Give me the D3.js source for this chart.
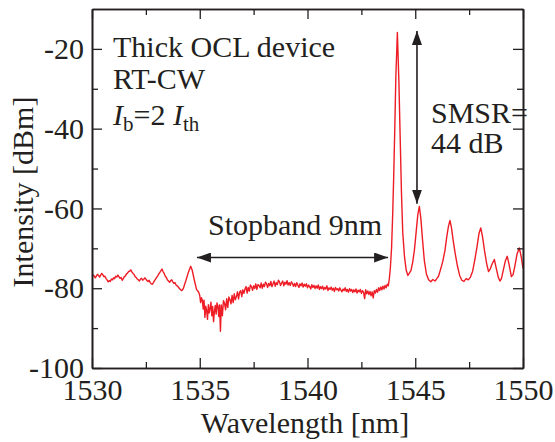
<!DOCTYPE html>
<html>
<head>
<meta charset="utf-8">
<script src="https://cdn.jsdelivr.net/npm/d3@7"></script>
<style>
  html, body { margin: 0; padding: 0; background: #fff; }
  svg text { font-family: "Liberation Serif", "Times New Roman", serif; fill: #231f20; }
</style>
</head>
<body>
<div id="chart"></div>
<script>
// spectrum, [wavelength nm, intensity dBm]
const shortSide = [
  [1530.0,-77.2],[1530.05,-76.7],[1530.1,-76.9],[1530.15,-77.4],[1530.2,-77.0],[1530.25,-76.5],
  [1530.3,-76.8],[1530.35,-77.2],[1530.4,-76.7],[1530.45,-76.3],[1530.5,-76.6],[1530.55,-77.1],
  [1530.6,-77.0],[1530.65,-77.6],[1530.7,-77.9],[1530.75,-78.4],[1530.8,-78.1],[1530.85,-78.3],
  [1530.9,-77.7],[1530.95,-77.9],[1531.0,-77.4],[1531.05,-77.6],[1531.1,-77.0],[1531.15,-77.2],
  [1531.2,-76.7],[1531.25,-77.1],[1531.3,-77.5],[1531.35,-77.3],[1531.4,-78.0],[1531.45,-77.6],
  [1531.5,-77.1],[1531.55,-76.9],[1531.6,-76.4],[1531.65,-76.2],[1531.7,-75.8],[1531.75,-75.7],
  [1531.8,-75.4],[1531.85,-75.9],[1531.9,-76.3],[1531.95,-76.5],[1532.0,-77.1],[1532.05,-77.3],
  [1532.1,-77.7],[1532.15,-77.9],[1532.2,-78.2],[1532.25,-77.7],[1532.3,-77.5],[1532.35,-78.0],
  [1532.4,-77.8],[1532.45,-77.4],[1532.5,-77.7],[1532.55,-78.1],[1532.6,-78.3],[1532.65,-78.0],
  [1532.7,-78.6],[1532.75,-78.9],[1532.8,-79.0],[1532.85,-78.6],[1532.9,-78.1],[1532.95,-77.7],
  [1533.0,-77.3],[1533.05,-76.9],[1533.1,-76.4],[1533.15,-76.0],[1533.2,-75.6],[1533.25,-75.2],
  [1533.3,-75.9],[1533.35,-76.3],[1533.4,-77.0],[1533.45,-77.3],[1533.5,-77.9],[1533.55,-78.2],
  [1533.6,-78.5],[1533.65,-78.1],[1533.7,-77.9],[1533.75,-78.4],[1533.8,-78.8],[1533.85,-78.6],
  [1533.9,-79.2],[1533.95,-79.4],[1534.0,-79.7],[1534.05,-80.0],[1534.1,-80.3],[1534.15,-80.6],
  [1534.2,-80.4],[1534.25,-79.9],[1534.3,-79.0],[1534.35,-78.2],[1534.4,-77.3],[1534.45,-76.4],
  [1534.5,-75.6],[1534.58,-74.5],[1534.65,-75.5],[1534.75,-78.0],[1534.85,-80.3],[1534.95,-81.0]
];

const stopband = [
  [1535.00,-81.8],[1535.04,-83.6],[1535.08,-82.4],[1535.12,-83.0],[1535.16,-85.2],[1535.20,-83.0],
  [1535.24,-87.3],[1535.28,-84.5],[1535.32,-85.6],[1535.36,-87.8],[1535.40,-84.1],[1535.44,-86.2],
  [1535.48,-85.1],[1535.52,-83.5],[1535.56,-86.9],[1535.60,-84.6],[1535.64,-88.4],[1535.68,-85.9],
  [1535.72,-84.3],[1535.76,-86.5],[1535.80,-83.7],[1535.84,-84.4],[1535.88,-87.1],[1535.92,-84.2],
  [1535.96,-90.8],[1536.00,-84.2],[1536.05,-86.9],[1536.10,-83.1],[1536.15,-83.8],[1536.20,-85.4],
  [1536.25,-82.6],[1536.30,-84.8],[1536.35,-82.2],[1536.40,-82.9],[1536.45,-83.9],[1536.50,-81.8],
  [1536.55,-83.6],[1536.60,-81.4],[1536.65,-82.9],[1536.70,-82.1],[1536.75,-80.9],[1536.80,-82.7],
  [1536.85,-81.0],[1536.90,-80.6],[1536.95,-82.1],[1537.00,-80.4],[1537.05,-81.3],[1537.10,-80.2],
  [1537.15,-79.6],[1537.20,-81.2],[1537.25,-79.8],[1537.30,-80.7],[1537.35,-79.2],[1537.40,-79.6],
  [1537.45,-80.5],[1537.50,-79.4],[1537.55,-80.1],[1537.60,-78.9],[1537.65,-80.3],[1537.70,-79.1],
  [1537.75,-79.3],[1537.80,-79.9],[1537.85,-78.7],[1537.90,-80.0],[1537.95,-79.0],[1538.00,-79.6],
  [1538.05,-78.5],[1538.10,-78.9],[1538.15,-79.8],[1538.20,-78.8],[1538.25,-79.4],[1538.30,-78.3],
  [1538.35,-79.6],[1538.40,-78.9],[1538.45,-78.2],[1538.50,-79.5],[1538.55,-78.6],[1538.60,-79.1],
  [1538.65,-78.0],[1538.70,-78.4],[1538.75,-79.3],[1538.80,-78.7],[1538.85,-78.2],[1538.90,-79.4],
  [1538.95,-78.5],[1539.00,-79.0],[1539.05,-78.1],[1539.10,-79.2],[1539.15,-78.6],[1539.20,-79.3],
  [1539.25,-78.4],[1539.30,-78.8],[1539.35,-79.5],[1539.40,-78.8],[1539.45,-79.6],[1539.50,-78.6],
  [1539.55,-79.2],[1539.60,-79.8],[1539.65,-78.9],[1539.70,-79.4],[1539.75,-78.7],[1539.80,-79.7],
  [1539.85,-79.0],[1539.90,-79.5],[1539.95,-78.9],[1540.00,-79.9],[1540.05,-79.2],[1540.10,-79.6],
  [1540.15,-80.2],[1540.20,-79.1],[1540.25,-79.8],[1540.30,-79.3],[1540.35,-80.1],[1540.40,-79.4],
  [1540.45,-80.0],[1540.50,-79.2],[1540.55,-80.3],[1540.60,-79.6],[1540.65,-80.1],[1540.70,-79.5],
  [1540.75,-80.4],[1540.80,-79.8],[1540.85,-80.2],[1540.90,-79.4],[1540.95,-80.6],[1541.00,-79.9],
  [1541.05,-80.3],[1541.10,-79.7],[1541.15,-80.5],[1541.20,-80.0],[1541.25,-80.8],[1541.30,-79.8],
  [1541.35,-80.4],[1541.40,-80.1],[1541.45,-80.7],[1541.50,-79.9],[1541.55,-80.5],[1541.60,-80.9],
  [1541.65,-80.2],[1541.70,-80.6],[1541.75,-79.9],[1541.80,-80.8],[1541.85,-80.3],[1541.90,-81.0],
  [1541.95,-80.1],[1542.00,-80.7],[1542.05,-80.3],[1542.10,-81.1],[1542.15,-80.4],[1542.20,-80.9],
  [1542.25,-80.2],[1542.30,-81.2],[1542.35,-80.5],[1542.40,-80.9],[1542.45,-80.3],[1542.50,-81.3],
  [1542.55,-80.6],[1542.60,-81.0],[1542.65,-82.6],[1542.70,-80.4],[1542.75,-81.4],[1542.80,-80.7],
  [1542.85,-81.6],[1542.90,-80.8],[1542.95,-81.9],[1543.00,-80.9],[1543.05,-82.4],[1543.10,-80.6],
  [1543.15,-81.2],[1543.20,-80.3],[1543.25,-81.0],[1543.30,-79.9],[1543.35,-80.6],[1543.40,-79.7],
  [1543.45,-80.4],[1543.50,-79.5],[1543.55,-80.2],[1543.60,-79.3],[1543.65,-79.9],[1543.70,-79.0],
  [1543.75,-79.4]
];

const longSide = [
  [1543.80,-77.5],[1543.85,-74.5],[1543.90,-70.0],[1543.95,-62.0],[1544.00,-52.0],[1544.05,-40.0],
  [1544.10,-27.0],[1544.17,-15.9],[1544.24,-28.0],[1544.30,-42.0],[1544.36,-56.0],[1544.42,-66.0],
  [1544.50,-72.0],[1544.58,-75.5],[1544.66,-76.8],[1544.72,-76.3],[1544.80,-75.6],[1544.88,-73.5],
  [1544.96,-70.5],[1545.04,-66.0],[1545.12,-61.5],[1545.19,-59.5],[1545.26,-62.5],[1545.34,-68.0],
  [1545.42,-73.0],[1545.52,-76.5],[1545.62,-77.9],[1545.72,-78.4],[1545.82,-77.8],[1545.92,-78.2],
  [1546.00,-77.6],[1546.08,-77.0],[1546.18,-75.2],[1546.28,-73.2],[1546.38,-70.5],[1546.46,-67.2],
  [1546.54,-64.5],[1546.61,-63.0],[1546.68,-64.8],[1546.76,-68.0],[1546.86,-71.5],[1546.96,-74.5],
  [1547.06,-76.8],[1547.16,-78.0],[1547.26,-78.3],[1547.36,-77.6],[1547.46,-77.9],[1547.56,-77.2],
  [1547.66,-75.8],[1547.76,-73.0],[1547.86,-69.8],[1547.96,-66.2],[1548.04,-64.9],[1548.12,-67.0],
  [1548.22,-70.8],[1548.32,-74.0],[1548.40,-75.8],[1548.48,-75.2],[1548.56,-74.0],[1548.67,-72.8],
  [1548.76,-75.0],[1548.85,-77.2],[1548.93,-78.2],[1549.00,-77.6],[1549.08,-75.6],[1549.18,-73.2],
  [1549.27,-72.0],[1549.36,-74.2],[1549.46,-77.1],[1549.54,-76.6],[1549.62,-74.5],[1549.72,-71.5],
  [1549.83,-69.9],[1549.92,-72.2],[1550.00,-75.0]
];

const xTicks = [1530, 1535, 1540, 1545, 1550];
const xMinor = [1532.5, 1537.5, 1542.5, 1547.5];
const yTicks = [-100, -80, -60, -40, -20];
const yMinor = [-90, -70, -50, -30];

// arrows: stopband span and SMSR span
const stopbandArrow = [[1534.87, -72.3], [1543.74, -72.3]];
const smsrArrow = [[1545.08, -15.5], [1545.08, -58.8]];

const width = 555, height = 442;
const margin = { top: 9, right: 32, bottom: 74, left: 92 };
const iw = width - margin.left - margin.right;
const ih = height - margin.top - margin.bottom;
const serif = '"Liberation Serif", "Times New Roman", serif';
const fs = 30;

const svg = d3.select('#chart').append('svg')
  .attr('width', width)
  .attr('height', height);

const g = svg.append('g').attr('transform', `translate(${margin.left},${margin.top})`);

const x = d3.scaleLinear().domain([1530, 1550]).range([0, iw]);
const y = d3.scaleLinear().domain([-100, -10]).range([ih, 0]);

const defs = svg.append('defs');
defs.append('clipPath').attr('id', 'clip')
  .append('rect').attr('width', iw).attr('height', ih);

defs.append('marker')
  .attr('id', 'head')
  .attr('viewBox', '0 0 14 10')
  .attr('refX', 14).attr('refY', 5)
  .attr('markerWidth', 14).attr('markerHeight', 10)
  .attr('markerUnits', 'userSpaceOnUse')
  .attr('orient', 'auto-start-reverse')
  .append('path').attr('d', 'M0,0L14,5L0,10Z').attr('fill', '#231f20');

// spectrum
const spectrum = shortSide.concat(stopband, longSide);
g.append('path')
  .datum(spectrum)
  .attr('clip-path', 'url(#clip)')
  .attr('fill', 'none')
  .attr('stroke', '#ee1c25')
  .attr('stroke-width', 1.4)
  .attr('stroke-linejoin', 'round')
  .attr('d', d3.line().x(d => x(d[0])).y(d => y(d[1])));

// axes, ticks pointing inward
function styleAxis(sel) {
  sel.attr('font-family', null).attr('font-size', null);
  sel.selectAll('path.domain').attr('stroke', '#231f20').attr('stroke-width', 1.6).attr('fill', 'none');
  sel.selectAll('.tick line').attr('stroke', '#231f20').attr('stroke-width', 1.3);
  sel.selectAll('.tick text')
    .style('font-family', serif)
    .style('font-size', fs + 'px')
    .style('fill', '#231f20');
}

const plain = d => String(d); // hyphen minus like the original, not U+2212

g.append('g').attr('transform', `translate(0,${ih})`)
  .call(d3.axisBottom(x).tickValues(xTicks).tickSize(-10).tickSizeOuter(0).tickPadding(11).tickFormat(plain))
  .call(styleAxis);
g.append('g').attr('transform', `translate(0,${ih})`)
  .call(d3.axisBottom(x).tickValues(xMinor).tickSize(-6).tickSizeOuter(0).tickFormat(''))
  .call(styleAxis);
g.append('g')
  .call(d3.axisTop(x).tickValues(xTicks).tickSize(-10).tickSizeOuter(0).tickFormat(''))
  .call(styleAxis);
g.append('g')
  .call(d3.axisTop(x).tickValues(xMinor).tickSize(-6).tickSizeOuter(0).tickFormat(''))
  .call(styleAxis);

g.append('g')
  .call(d3.axisLeft(y).tickValues(yTicks).tickSize(-10).tickSizeOuter(0).tickPadding(8).tickFormat(plain))
  .call(styleAxis);
g.append('g')
  .call(d3.axisLeft(y).tickValues(yMinor).tickSize(-6).tickSizeOuter(0).tickFormat(''))
  .call(styleAxis);
g.append('g').attr('transform', `translate(${iw},0)`)
  .call(d3.axisRight(y).tickValues(yTicks).tickSize(-10).tickSizeOuter(0).tickFormat(''))
  .call(styleAxis);
g.append('g').attr('transform', `translate(${iw},0)`)
  .call(d3.axisRight(y).tickValues(yMinor).tickSize(-6).tickSizeOuter(0).tickFormat(''))
  .call(styleAxis);

// axis titles
svg.append('text')
  .attr('x', 305).attr('y', 433)
  .attr('text-anchor', 'middle').attr('font-size', fs)
  .text('Wavelength [nm]');

svg.append('text')
  .attr('transform', `translate(33,192) rotate(-90)`)
  .attr('text-anchor', 'middle').attr('font-size', fs)
  .text('Intensity [dBm]');

// annotations
const note = g.append('g').attr('font-size', fs);
note.append('text').attr('x', 21).attr('y', 48).text('Thick OCL device');
note.append('text').attr('x', 21).attr('y', 80).text('RT-CW');
const ib = note.append('text').attr('x', 21).attr('y', 116);
ib.append('tspan').attr('font-style', 'italic').text('I');
ib.append('tspan').attr('font-size', 21).attr('dy', 6).text('b');
ib.append('tspan').attr('dy', -6).text('=2 ');
ib.append('tspan').attr('font-style', 'italic').text('I');
ib.append('tspan').attr('font-size', 21).attr('dy', 6).text('th');

note.append('text').attr('x', 339).attr('y', 114).text('SMSR=');
note.append('text').attr('x', 339).attr('y', 144).text('44 dB');
note.append('text').attr('x', 116).attr('y', 226).text('Stopband 9nm');

const arrowLine = d3.line().x(d => x(d[0])).y(d => y(d[1]));
[stopbandArrow, smsrArrow].forEach(a => {
  g.append('path')
    .attr('d', arrowLine(a))
    .attr('stroke', '#231f20')
    .attr('stroke-width', 1.6)
    .attr('fill', 'none')
    .attr('marker-start', 'url(#head)')
    .attr('marker-end', 'url(#head)');
});
</script>
</body>
</html>
